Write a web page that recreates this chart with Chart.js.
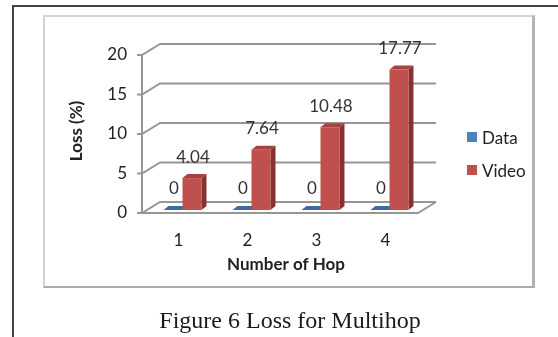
<!DOCTYPE html>
<html>
<head>
<meta charset="utf-8">
<script src="https://cdn.jsdelivr.net/npm/chart.js@4.4.1/dist/chart.umd.min.js"></script>
<style>
  html, body { margin: 0; padding: 0; background: #fff; }
  #page { position: relative; width: 558px; height: 337px; overflow: hidden; }
  #frame { position: absolute; left: 12px; top: 5px; right: -5px; bottom: -5px; border-top: 2px solid #444; border-left: 2px solid #444; }
  #box { position: absolute; left: 43px; top: 15px; width: 492px; height: 273px; box-sizing: border-box;
         border: 2px solid #d2d2d2; border-right: 3px solid #b3b3b3; border-bottom: 2px solid #ababab; }
  #wrap { position: absolute; left: 0; top: 0; width: 558px; height: 337px; }
  #legend { position: absolute; left: 467px; top: 128px; font: 17px Lato, sans-serif; color: #222; }
  #legend .item { display: flex; align-items: center; height: 18px; margin-bottom: 15px; }
  #legend .sw { width: 10px; height: 10px; margin-right: 5px; }
  #caption { position: absolute; left: 0; width: 580px; top: 308px; text-align: center;
             font: 24px "Liberation Serif", serif; line-height: 24px; color: #1a1a1a; }
</style>
</head>
<body>
<div id="page">
  <div id="frame"></div>
  <div id="box"></div>
  <div id="wrap"><canvas id="graficoLoss"></canvas></div>
  <div id="legend"></div>
  <div id="caption">Figure 6 Loss for Multihop</div>
</div>
<script>
const hops = ["1", "2", "3", "4"];
const dataLoss = [0, 0, 0, 0];
const videoLoss = [4.04, 7.64, 10.48, 17.77];
const yTicks = [0, 5, 10, 15, 20];

const colores = ["#4f81bd", "#c0504d"];
const caras = [
    { top: "#3d6aa3", side: "#2f5585" },
    { top: "#a7423f", side: "#86322f" },
];

// offsets of the fake 3D walls and bar depth
const FRENTE = { x: -6, y: 3 };
const FONDO = { x: 12, y: -8 };
const DX = 5, DY = 4;

const fuente = { family: "Lato", size: 17 };

const plugin3D = {
    id: "plugin3D",
    beforeDatasetsDraw(chart) {
        const { ctx, chartArea: a, scales: { y } } = chart;
        const fl = a.left + FRENTE.x, fr = a.right + FRENTE.x;
        const bl = a.left + FONDO.x, br = a.right + FONDO.x;
        const y0 = y.getPixelForValue(0);
        const yTop = y.getPixelForValue(y.max);
        ctx.save();
        ctx.strokeStyle = "#969696";
        ctx.lineWidth = 2;
        ctx.beginPath();
        ctx.moveTo(fl, yTop + FRENTE.y);
        ctx.lineTo(fl, y0 + FRENTE.y);
        ctx.lineTo(fr, y0 + FRENTE.y);
        ctx.lineTo(br, y0 + FONDO.y);
        ctx.stroke();
        y.ticks.forEach((t) => {
            const py = y.getPixelForValue(t.value);
            ctx.beginPath();
            ctx.moveTo(fl - 5, py + FRENTE.y);
            ctx.lineTo(fl, py + FRENTE.y);
            ctx.lineTo(bl, py + FONDO.y);
            ctx.lineTo(br, py + FONDO.y);
            ctx.stroke();
        });
        chart.data.datasets.forEach((ds, i) => {
            chart.getDatasetMeta(i).data.forEach((bar) => {
                const { x, y: top, base, width } = bar.getProps(["x", "y", "base", "width"], true);
                const l = x - width / 2, r = x + width / 2;
                ctx.fillStyle = caras[i].top;
                ctx.beginPath();
                ctx.moveTo(l, top);
                ctx.lineTo(l + DX, top - DY);
                ctx.lineTo(r + DX, top - DY);
                ctx.lineTo(r, top);
                ctx.closePath();
                ctx.fill();
                ctx.fillStyle = caras[i].side;
                ctx.beginPath();
                ctx.moveTo(r, top);
                ctx.lineTo(r + DX, top - DY);
                ctx.lineTo(r + DX, base - DY);
                ctx.lineTo(r, base);
                ctx.closePath();
                ctx.fill();
            });
        });
        ctx.restore();
    },
    afterDatasetsDraw(chart) {
        const { ctx } = chart;
        ctx.save();
        ctx.font = "17px Lato";
        ctx.fillStyle = "#333";
        ctx.textAlign = "center";
        ctx.textBaseline = "middle";
        chart.data.datasets.forEach((ds, i) => {
            chart.getDatasetMeta(i).data.forEach((bar, j) => {
                ctx.fillText(String(ds.data[j]), bar.x + 1, bar.y - 21);
            });
        });
        ctx.restore();
    },
};

const dataGraficoLoss = {
    labels: hops,
    datasets: [
        { label: "Data", backgroundColor: colores[0], data: dataLoss },
        { label: "Video", backgroundColor: colores[1], data: videoLoss },
    ],
};

const configGraficoLoss = {
    type: "bar",
    data: dataGraficoLoss,
    plugins: [plugin3D],
    options: {
        responsive: true,
        maintainAspectRatio: false,
        animation: false,
        layout: { padding: { left: 63, right: 134, top: 52, bottom: 57 } },
        datasets: {
            bar: { categoryPercentage: 0.55, barPercentage: 1 },
        },
        plugins: {
            legend: { display: false },
            tooltip: { enabled: false },
        },
        scales: {
            x: {
                grid: { display: false, drawTicks: false },
                border: { display: false },
                ticks: { font: fuente, color: "#222", padding: 20, labelOffset: -4 },
                title: {
                    display: true,
                    text: "Number of Hop",
                    color: "#222",
                    font: { family: "Lato", size: 17, weight: "bold" },
                    padding: { top: 0, bottom: 5 },
                },
                afterFit: (s) => { s.height = 70; },
            },
            y: {
                min: 0,
                max: 20,
                grid: { display: false, drawTicks: false },
                border: { display: false },
                ticks: { font: fuente, color: "#222", padding: 21, labelOffset: 3 },
                afterBuildTicks: (s) => { s.ticks = yTicks.map((v) => ({ value: v })); },
                title: {
                    display: true,
                    text: "Loss (%)",
                    color: "#222",
                    font: { family: "Lato", size: 17, weight: "bold" },
                    padding: { top: 3, bottom: 4 },
                },
                afterFit: (s) => { s.width = 85; },
            },
        },
    },
};

const chartLoss = new Chart(document.getElementById("graficoLoss"), configGraficoLoss);

// simple html legend built from the datasets
const leyenda = document.getElementById("legend");
chartLoss.data.datasets.forEach((ds) => {
    const item = document.createElement("div");
    item.className = "item";
    const sw = document.createElement("span");
    sw.className = "sw";
    sw.style.background = ds.backgroundColor;
    const txt = document.createElement("span");
    txt.textContent = ds.label;
    item.appendChild(sw);
    item.appendChild(txt);
    leyenda.appendChild(item);
});
</script>
</body>
</html>
